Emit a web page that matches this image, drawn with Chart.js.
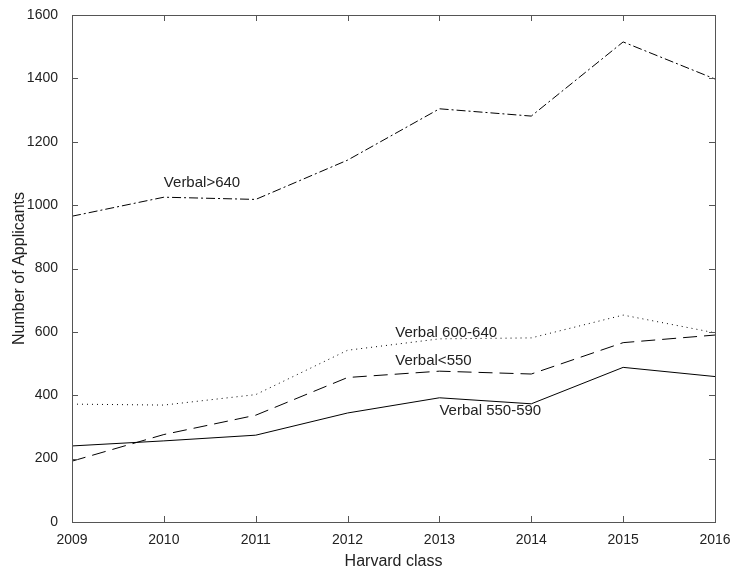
<!DOCTYPE html>
<html>
<head>
<meta charset="utf-8">
<script src="https://cdn.jsdelivr.net/npm/chart.js@4"></script>
<style>
  body { margin: 0; background: #fff; }
  #wrap { width: 734px; height: 573px; }
</style>
</head>
<body>
<div id="wrap"><canvas id="myChart" width="734" height="573"></canvas></div>
<script>
// Harvard applicants by verbal score band
var years = [2009, 2010, 2011, 2012, 2013, 2014, 2015, 2016];
var verbalOver640 = [965, 1025, 1018, 1142, 1304, 1281, 1515, 1398];
var verbal600to640 = [372, 369, 402, 542, 578, 581, 653, 597];
var verbalUnder550 = [192, 276, 337, 456, 476, 467, 566, 590];
var verbal550to590 = [240, 256, 274, 344, 392, 373, 488, 459];
var yTicks = [0, 200, 400, 600, 800, 1000, 1200, 1400, 1600];

// in-plot text labels, anchored in data units
var seriesLabels = [
  { text: "Verbal>640", x: 2010, y: 1069 },
  { text: "Verbal 600-640", x: 2012.52, y: 596 },
  { text: "Verbal<550", x: 2012.52, y: 507 },
  { text: "Verbal 550-590", x: 2013, y: 350 }
];

var fontFam = '"Liberation Sans", Arial, sans-serif';

function pts(vals) {
  return years.map(function (yr, i) { return { x: yr, y: vals[i] } })
}

var frame = {
  id: 'frame',
  afterDraw: function (chart) {
    var ctx = chart.ctx, a = chart.chartArea;
    var xs = chart.scales.x, ys = chart.scales.y;
    ctx.save();
    ctx.strokeStyle = '#555';
    ctx.lineWidth = 1;
    ctx.strokeRect(Math.round(a.left) + 0.5, Math.round(a.top) + 0.5,
      Math.round(a.right - a.left), Math.round(a.bottom - a.top));
    ctx.beginPath();
    years.forEach(function (yr) {
      var px = Math.round(xs.getPixelForValue(yr)) + 0.5;
      ctx.moveTo(px, a.bottom); ctx.lineTo(px, a.bottom - 6);
      ctx.moveTo(px, a.top); ctx.lineTo(px, a.top + 6);
    });
    yTicks.forEach(function (v) {
      var py = Math.round(ys.getPixelForValue(v)) + 0.5;
      ctx.moveTo(a.left, py); ctx.lineTo(a.left + 6, py);
      ctx.moveTo(a.right, py); ctx.lineTo(a.right - 6, py);
    });
    ctx.stroke();

    ctx.fillStyle = '#222';
    ctx.font = '15px ' + fontFam;
    ctx.textAlign = 'left';
    ctx.textBaseline = 'middle';
    seriesLabels.forEach(function (l) {
      ctx.fillText(l.text, xs.getPixelForValue(l.x), ys.getPixelForValue(l.y));
    });
    ctx.restore();
  }
};

var ctx = document.getElementById('myChart').getContext('2d');
var myChart = new Chart(ctx, {
  type: 'line',
  data: {
    datasets: [
      { label: 'Verbal>640', data: pts(verbalOver640), borderDash: [9, 3, 2, 3] },
      { label: 'Verbal 600-640', data: pts(verbal600to640), borderDash: [1, 4] },
      { label: 'Verbal<550', data: pts(verbalUnder550), borderDash: [14, 7] },
      { label: 'Verbal 550-590', data: pts(verbal550to590) }
    ].map(function (d) {
      d.borderColor = '#000';
      d.borderWidth = 1;
      d.pointRadius = 0;
      d.fill = false;
      d.tension = 0;
      return d;
    })
  },
  options: {
    responsive: false,
    animation: false,
    devicePixelRatio: 1,
    layout: { padding: { top: 15, right: 19, left: 0, bottom: 0 } },
    plugins: { legend: { display: false }, tooltip: { enabled: false } },
    scales: {
      x: {
        type: 'linear',
        min: 2009,
        max: 2016,
        grid: { display: false },
        border: { display: false },
        ticks: {
          stepSize: 1,
          padding: 2,
          color: '#222',
          font: { family: fontFam, size: 14 },
          callback: function (v) { return String(v) }
        },
        title: {
          display: true,
          text: 'Harvard class',
          color: '#222',
          padding: { top: 2, bottom: 2 },
          font: { family: fontFam, size: 16 }
        },
        afterFit: function (s) {
          s.height = 51;
          s.paddingLeft = 0;
          s.paddingRight = 0;
        }
      },
      y: {
        min: 0,
        max: 1600,
        grid: { display: false },
        border: { display: false },
        ticks: {
          stepSize: 200,
          padding: 6,
          color: '#222',
          font: { family: fontFam, size: 14 },
          callback: function (v) { return String(v) }
        },
        title: {
          display: true,
          text: 'Number of Applicants',
          color: '#222',
          padding: { top: 10, bottom: 0 },
          font: { family: fontFam, size: 16 }
        },
        afterFit: function (s) {
          s.width = 72;
          s.paddingTop = 0;
          s.paddingBottom = 0;
        }
      }
    }
  },
  plugins: [frame]
});
</script>
</body>
</html>
